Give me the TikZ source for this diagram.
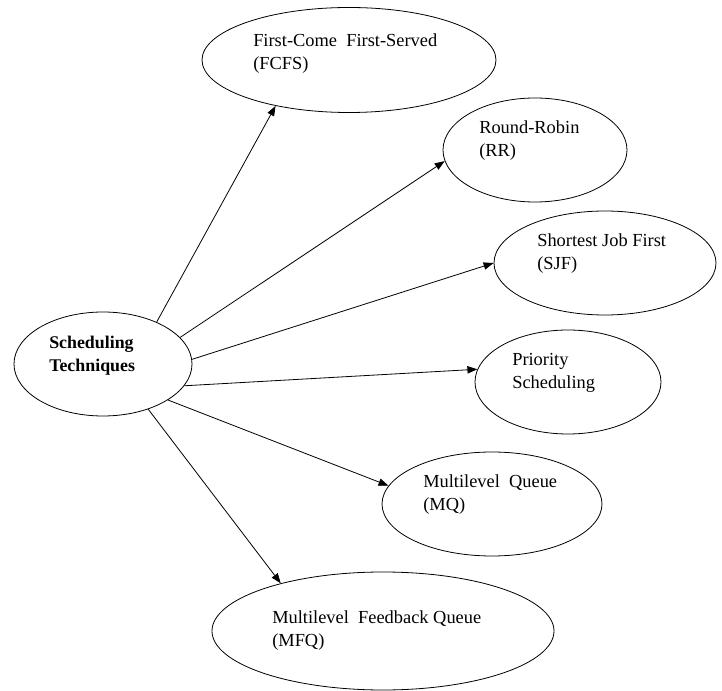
\documentclass[tikz,border=0pt]{standalone}
\usepackage{fontspec}
\setmainfont{Liberation Serif}
\usetikzlibrary{shapes.geometric,arrows.meta}
\begin{document}
\begin{tikzpicture}[x=0.75pt,y=-0.75pt,
  oval/.style={ellipse,draw=black,line width=0.6pt,inner sep=0pt},
  lbl/.style={anchor=west,align=left,inner sep=0pt,font=\fontsize{13.8}{17.25}\selectfont},
  conn/.style={line width=0.6pt,-{Triangle[length=7.5pt,width=5.5pt]}}]
\useasboundingbox (0,0) rectangle (722,691);
% ellipses
\node[oval,minimum width=133.5pt,minimum height=78pt] (c) at (103,364) {};
\node[oval,minimum width=220.5pt,minimum height=78.75pt] (fcfs) at (349,60) {};
\node[oval,minimum width=138pt,minimum height=78pt] (rr) at (535,150) {};
\node[oval,minimum width=166.5pt,minimum height=78pt] (sjf) at (605,263) {};
\node[oval,minimum width=139.5pt,minimum height=78pt] (prio) at (568,382) {};
\node[oval,minimum width=165pt,minimum height=78pt] (mq) at (492,504) {};
\node[oval,minimum width=256.5pt,minimum height=88.5pt] (mfq) at (383,631) {};
% texts
\node[lbl,font=\fontsize{13.4}{17.25}\selectfont\bfseries] (tc) at (49,355.5) {Scheduling\\Techniques};
\node[lbl] (tfcfs) at (253,53.5) {First-Come\ \ First-Served\\(FCFS)};
\node[lbl] (trr) at (479,141) {Round-Robin\\(RR)};
\node[lbl] (tsjf) at (537,254) {Shortest Job First\\(SJF)};
\node[lbl] (tprio) at (512,372.5) {Priority\\Scheduling};
\node[lbl] (tmq) at (423,494.5) {Multilevel\ \ Queue\\(MQ)};
\node[lbl] (tmfq) at (272,630.5) {Multilevel\ \ Feedback Queue\\(MFQ)};
% connectors
\draw[conn] (c.38.9) -- (fcfs.-148.6);
\draw[conn] (c.19.3) -- (rr.187.4);
\draw[conn] (c.3.2) -- (sjf.180);
\draw[conn] (c.-15.7) -- (prio.172);
\draw[conn] (c.-29.2) -- (mq.170.7);
\draw[conn] (c.-45.6) -- (mfq.155);
\end{tikzpicture}
\end{document}
